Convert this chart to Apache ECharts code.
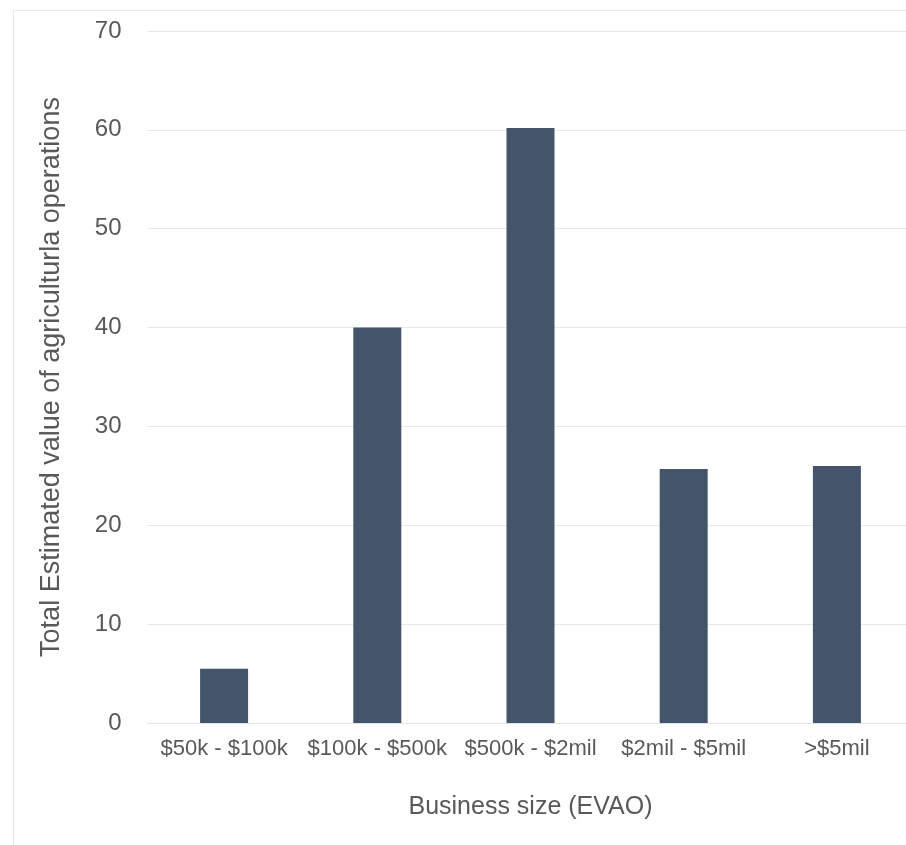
<!DOCTYPE html>
<html>
<head>
<meta charset="utf-8">
<script src="https://cdn.jsdelivr.net/npm/echarts@6/dist/echarts.min.js"></script>
<style>
html,body{margin:0;padding:0;background:#fff;}
#c{width:906px;height:845px;}
</style>
</head>
<body>
<div id="c"></div>
<script>
const categories = ['$50k - $100k', '$100k - $500k', '$500k - $2mil', '$2mil - $5mil', '>$5mil'];
const values = [5.5, 40.0, 60.2, 25.7, 26.0];
const yTicks = [0, 10, 20, 30, 40, 50, 60, 70];

const chart = echarts.init(document.getElementById('c'), null, {renderer: 'canvas'});
chart.setOption({
  backgroundColor: '#fff',
  animation: false,
  graphic: [{
    type: 'rect',
    shape: {x: 13.5, y: 10.5, width: 1000, height: 1000},
    style: {fill: 'none', stroke: '#e6e6e6', lineWidth: 1},
    silent: true
  }],
  grid: {left: 147.5, top: 31, bottom: 122, width: 766, containLabel: false, outerBoundsMode: 'none'},
  xAxis: {
    type: 'category',
    data: categories,
    name: 'Business size (EVAO)',
    nameLocation: 'middle',
    nameGap: 72,
    nameTextStyle: {fontFamily: 'Liberation Sans', fontSize: 25, color: '#595959'},
    axisLine: {show: true, lineStyle: {color: '#e3e3e3', width: 1}},
    axisTick: {show: false},
    axisLabel: {fontFamily: 'Liberation Sans', fontSize: 22, color: '#595959', margin: 15, interval: 0}
  },
  yAxis: {
    type: 'value',
    min: yTicks[0],
    max: yTicks[yTicks.length - 1],
    interval: 10,
    name: 'Total Estimated value of agriculturla operations',
    nameLocation: 'middle',
    nameGap: 82,
    nameTextStyle: {fontFamily: 'Liberation Sans', fontSize: 27, color: '#595959'},
    axisLine: {show: false},
    axisTick: {show: false},
    axisLabel: {fontFamily: 'Liberation Sans', fontSize: 24, color: '#595959', margin: 26},
    splitLine: {show: true, lineStyle: {color: '#e8e8e8', width: 1}}
  },
  series: [{
    type: 'bar',
    data: values,
    barWidth: 48,
    itemStyle: {color: '#44546a'}
  }]
});
</script>
</body>
</html>
